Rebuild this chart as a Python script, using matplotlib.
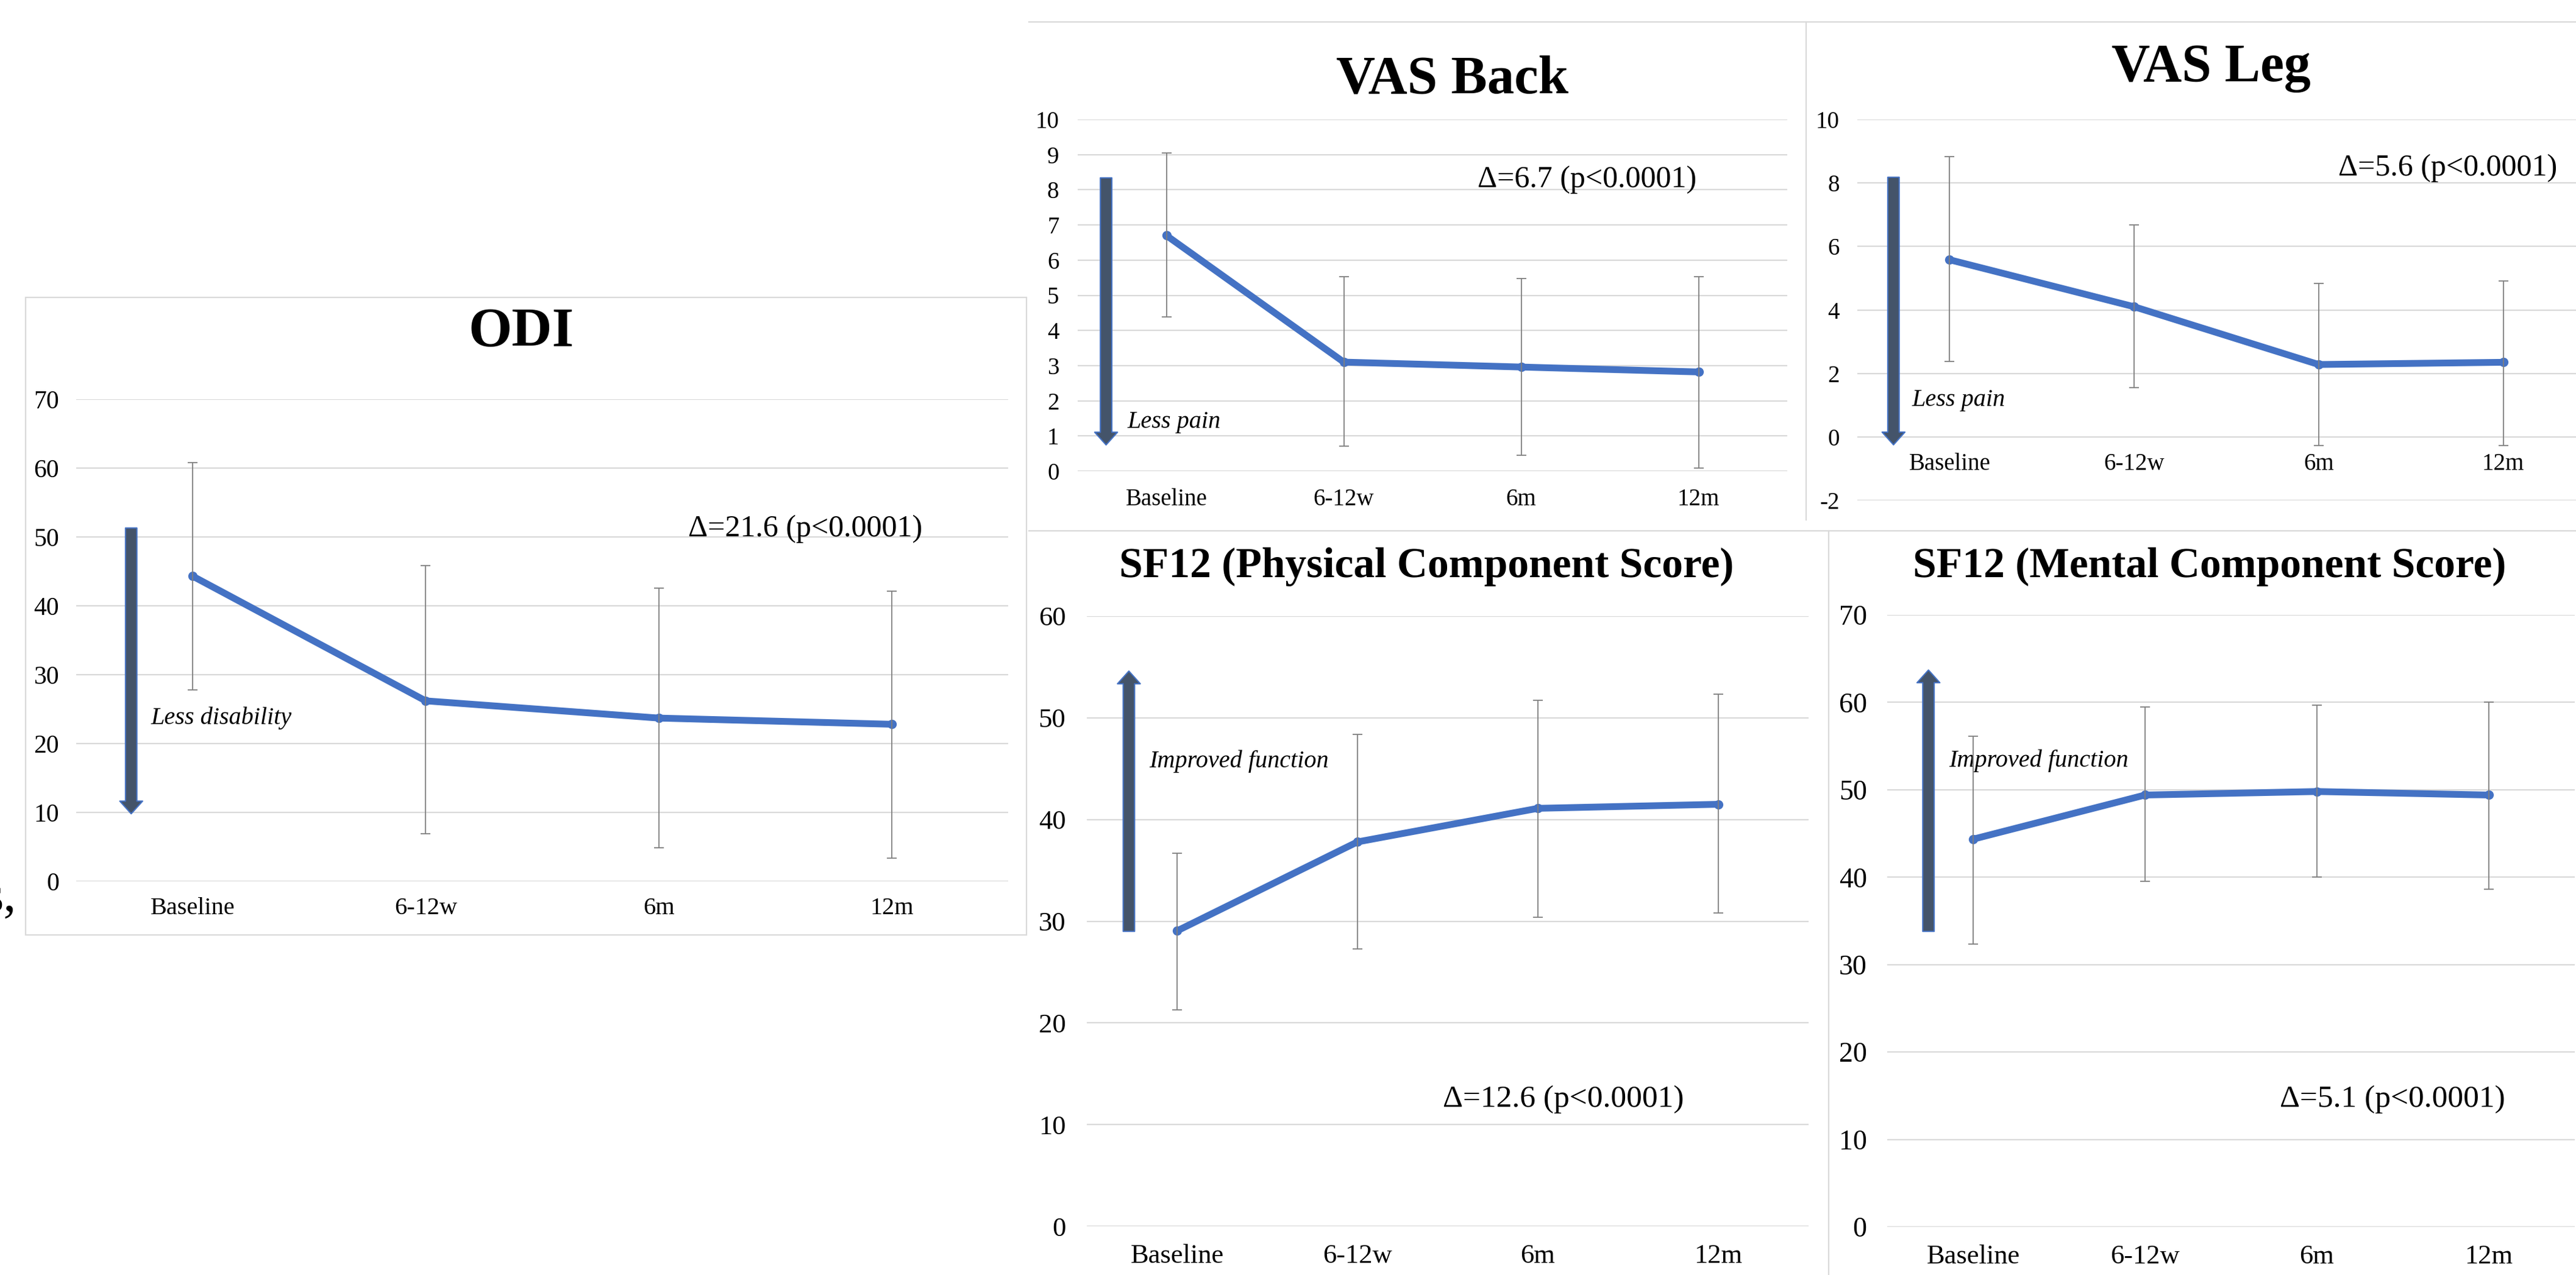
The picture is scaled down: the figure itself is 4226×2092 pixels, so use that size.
import numpy as np
import matplotlib
matplotlib.use("Agg")
import matplotlib.pyplot as plt
from matplotlib.lines import Line2D
from matplotlib.patches import Rectangle

plt.rcParams['font.family'] = ['Liberation Serif', 'DejaVu Serif']
plt.rcParams['axes.unicode_minus'] = False

# data (mean, upper / lower end of the error bar)
categories = ['Baseline', '6-12w', '6m', '12m']

odi_mean = [44.3, 26.2, 23.7, 22.8]
odi_upper = [60.8, 45.8, 42.6, 42.1]
odi_lower = [27.8, 6.9, 4.9, 3.4]

vas_back_mean = [6.70, 3.10, 2.96, 2.82]
vas_back_upper = [9.05, 5.52, 5.47, 5.52]
vas_back_lower = [4.38, 0.71, 0.45, 0.09]

vas_leg_mean = [5.58, 4.10, 2.28, 2.35]
vas_leg_upper = [8.82, 6.67, 4.84, 4.91]
vas_leg_lower = [2.37, 1.55, -0.28, -0.28]

pcs_mean = [29.05, 37.8, 41.1, 41.5]
pcs_upper = [36.7, 48.4, 51.7, 52.3]
pcs_lower = [21.3, 27.3, 30.4, 30.8]

mcs_mean = [44.35, 49.4, 49.8, 49.4]
mcs_upper = [56.1, 59.5, 59.7, 60.0]
mcs_lower = [32.35, 39.5, 40.0, 38.6]

W, H = 4226, 2092
LINE_BLUE = '#4472C4'
GRID = '#D9D9D9'

fig = plt.figure(figsize=(W / 100, H / 100), dpi=100)


def fx(px):
    return px / W


def fy(py):
    return 1 - py / H


def rect_px(x0, x1, y_top, y_bottom):
    return [fx(x0), fy(y_bottom), (x1 - x0) / W, (y_bottom - y_top) / H]


def panel(rect, mean, upper, lower, ylim, yticks, tick_fs, tick_pad,
          cat_fs, cat_pad, delta, delta_xy, delta_fs, arrow, note, note_xy,
          cross_zero=False):
    ax = fig.add_axes(rect)
    x = np.arange(len(categories))
    mean = np.array(mean)
    yerr = [mean - np.array(lower), np.array(upper) - mean]

    ax.plot(x, mean, color=LINE_BLUE, lw=8, marker='o', ms=10,
            solid_capstyle='round', solid_joinstyle='round', zorder=3)
    ax.errorbar(x, mean, yerr=yerr, fmt='none', ecolor='#7F7F7F',
                elinewidth=1.3, capsize=6, capthick=1.3, zorder=4)

    ax.set_xlim(-0.5, 3.5)
    ax.set_ylim(*ylim)
    ax.set_yticks(yticks)
    ax.set_xticks(x)
    ax.set_xticklabels(categories)
    ax.yaxis.grid(True, color=GRID, lw=1.6)
    ax.set_axisbelow(True)
    for s in ax.spines.values():
        s.set_visible(False)
    if cross_zero:
        ax.spines['bottom'].set_position(('data', 0))
    ax.tick_params(axis='y', length=0, pad=tick_pad, labelsize=tick_fs)
    ax.tick_params(axis='x', length=0, pad=cat_pad, labelsize=cat_fs)
    ax.patch.set_alpha(0)

    ax.text(delta_xy[0], delta_xy[1], delta, fontsize=delta_fs,
            ha='center', va='center')

    ax_x, y0, y1 = arrow
    ax.annotate('', xy=(ax_x, y1), xytext=(ax_x, y0),
                arrowprops=dict(arrowstyle='simple,head_length=1.5,head_width=2.7,tail_width=1.35',
                                mutation_scale=10, fc='#44546A', ec=LINE_BLUE,
                                lw=1.5, shrinkA=0, shrinkB=0),
                annotation_clip=False)
    ax.text(note_xy[0], note_xy[1], note, fontsize=29, style='italic',
            ha='left', va='center')
    return ax


# panel frames
fig.add_artist(Rectangle((fx(42), fy(1534)), (1684 - 42) / W, (1534 - 488) / H,
                         fill=False, ec=GRID, lw=1.6, transform=fig.transFigure))
for xs, ys in [([1688, W], [36, 36]), ([2963, 2963], [36, 853]),
               ([1688, W], [871, 871]), ([3000, 3000], [871, H])]:
    fig.add_artist(Line2D([fx(v) for v in xs], [fy(v) for v in ys],
                          color=GRID, lw=1.6, transform=fig.transFigure))

panel(rect_px(125, 1654, 655, 1446), odi_mean, odi_upper, odi_lower,
      (0, 70), range(0, 71, 10), 30, 20, 29, 19,
      'Δ=21.6 (p<0.0001)', (2.63, 51.2), 36, (-0.264, 51.3, 9.8),
      'Less disability', (-0.18, 23.7))

panel(rect_px(1768, 2932, 196, 773), vas_back_mean, vas_back_upper, vas_back_lower,
      (0, 10), range(0, 11), 28, 22, 28, 20,
      'Δ=6.7 (p<0.0001)', (2.37, 8.29), 36, (-0.34, 8.34, 0.745),
      'Less pain', (-0.22, 1.39))

panel(rect_px(3047, 4258, 196, 821), vas_leg_mean, vas_leg_upper, vas_leg_lower,
      (-2, 10), range(-2, 11, 2), 28, 21, 28, 19,
      'Δ=5.6 (p<0.0001)', (2.70, 8.47), 36, (-0.304, 8.18, -0.25),
      'Less pain', (-0.205, 1.15), cross_zero=True)

panel(rect_px(1783, 2967, 1011, 2012), pcs_mean, pcs_upper, pcs_lower,
      (0, 60), range(0, 61, 10), 32, 25, 32, 21,
      'Δ=12.6 (p<0.0001)', (2.14, 12.5), 37, (-0.267, 29.0, 54.6),
      'Improved function', (-0.155, 45.7))

panel(rect_px(3096, 4224, 1009, 2013), mcs_mean, mcs_upper, mcs_lower,
      (0, 70), range(0, 71, 10), 33, 24, 32, 21,
      'Δ=5.1 (p<0.0001)', (2.44, 14.6), 37, (-0.26, 33.8, 63.7),
      'Improved function', (-0.143, 53.3))

# titles
for txt, px, py, fs in [('ODI', 855, 568, 66), ('VAS Back', 2382, 152, 64),
                        ('VAS Leg', 3627, 133, 63),
                        ('SF12 (Physical Component Score)', 2340, 947, 50),
                        ('SF12 (Mental Component Score)', 3625, 947, 50)]:
    fig.text(fx(px), fy(py), txt, fontsize=fs, fontweight='bold',
             ha='center', va='baseline')

# fragment of a caption cut off at the left edge
fig.text(fx(27), fy(1495), 's,', fontsize=60, ha='right', va='baseline')

fig.savefig('out.png', dpi=100, facecolor='white')
